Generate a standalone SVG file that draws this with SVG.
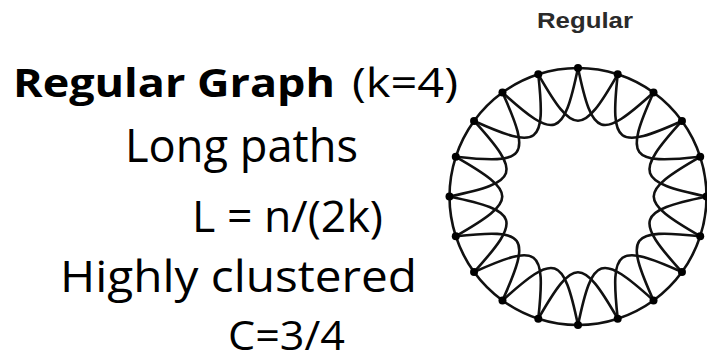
<svg xmlns="http://www.w3.org/2000/svg" xmlns:xlink="http://www.w3.org/1999/xlink" width="707" height="361" viewBox="0 0 707 361">
<style>
  .cap { font-family: "Open Sans", "DejaVu Sans", sans-serif; fill: #000; }
  .bold { font-weight: 700; }
  .lbl { font-family: "Liberation Sans", Arial, sans-serif; font-weight: 700; fill: #2a2a2a; }
  .edge { fill: none; stroke: #111; stroke-width: 2.6; }
  .node { fill: #000; }
</style>
<defs>
  <path id="chord" class="edge" d="M578,68 A128.5,128.5 0 0 1 617.71,74.29"/>
  <path id="skip" class="edge" d="M578,68 C592.61,137.89 600.63,140.5 653.53,92.54"/>
</defs>
<rect width="707" height="361" fill="#fff"/>

<g id="caption">
  <text class="cap" font-size="40" y="97"><tspan class="bold" x="13" textLength="322" lengthAdjust="spacingAndGlyphs">Regular Graph</tspan><tspan x="352" textLength="106" lengthAdjust="spacingAndGlyphs">(k=4)</tspan></text>
  <text class="cap" font-size="45" x="125" y="162" textLength="233" lengthAdjust="spacingAndGlyphs">Long paths</text>
  <text class="cap" font-size="44" x="192" y="232" textLength="191" lengthAdjust="spacingAndGlyphs">L = n/(2k)</text>
  <text class="cap" font-size="44" x="60" y="292" textLength="357" lengthAdjust="spacingAndGlyphs">Highly clustered</text>
  <text class="cap" font-size="40" x="228" y="350" textLength="117" lengthAdjust="spacingAndGlyphs">C=3/4</text>
</g>

<g id="label-regular">
  <text class="lbl" font-size="22" x="537" y="28" textLength="96" lengthAdjust="spacingAndGlyphs">Regular</text>
</g>

<g id="connectors">
  <use href="#chord" transform="rotate(0 578 196.5)"/>
  <use href="#chord" transform="rotate(18 578 196.5)"/>
  <use href="#chord" transform="rotate(36 578 196.5)"/>
  <use href="#chord" transform="rotate(54 578 196.5)"/>
  <use href="#chord" transform="rotate(72 578 196.5)"/>
  <use href="#chord" transform="rotate(90 578 196.5)"/>
  <use href="#chord" transform="rotate(108 578 196.5)"/>
  <use href="#chord" transform="rotate(126 578 196.5)"/>
  <use href="#chord" transform="rotate(144 578 196.5)"/>
  <use href="#chord" transform="rotate(162 578 196.5)"/>
  <use href="#chord" transform="rotate(180 578 196.5)"/>
  <use href="#chord" transform="rotate(198 578 196.5)"/>
  <use href="#chord" transform="rotate(216 578 196.5)"/>
  <use href="#chord" transform="rotate(234 578 196.5)"/>
  <use href="#chord" transform="rotate(252 578 196.5)"/>
  <use href="#chord" transform="rotate(270 578 196.5)"/>
  <use href="#chord" transform="rotate(288 578 196.5)"/>
  <use href="#chord" transform="rotate(306 578 196.5)"/>
  <use href="#chord" transform="rotate(324 578 196.5)"/>
  <use href="#chord" transform="rotate(342 578 196.5)"/>
  <use href="#skip" transform="rotate(0 578 196.5)"/>
  <use href="#skip" transform="rotate(18 578 196.5)"/>
  <use href="#skip" transform="rotate(36 578 196.5)"/>
  <use href="#skip" transform="rotate(54 578 196.5)"/>
  <use href="#skip" transform="rotate(72 578 196.5)"/>
  <use href="#skip" transform="rotate(90 578 196.5)"/>
  <use href="#skip" transform="rotate(108 578 196.5)"/>
  <use href="#skip" transform="rotate(126 578 196.5)"/>
  <use href="#skip" transform="rotate(144 578 196.5)"/>
  <use href="#skip" transform="rotate(162 578 196.5)"/>
  <use href="#skip" transform="rotate(180 578 196.5)"/>
  <use href="#skip" transform="rotate(198 578 196.5)"/>
  <use href="#skip" transform="rotate(216 578 196.5)"/>
  <use href="#skip" transform="rotate(234 578 196.5)"/>
  <use href="#skip" transform="rotate(252 578 196.5)"/>
  <use href="#skip" transform="rotate(270 578 196.5)"/>
  <use href="#skip" transform="rotate(288 578 196.5)"/>
  <use href="#skip" transform="rotate(306 578 196.5)"/>
  <use href="#skip" transform="rotate(324 578 196.5)"/>
  <use href="#skip" transform="rotate(342 578 196.5)"/>
</g>

<g id="nodes">
  <g id="n0"><circle class="node" cx="578" cy="68" r="4"/></g>
  <g id="n1"><circle class="node" cx="617.71" cy="74.29" r="4"/></g>
  <g id="n2"><circle class="node" cx="653.53" cy="92.54" r="4"/></g>
  <g id="n3"><circle class="node" cx="681.96" cy="120.97" r="4"/></g>
  <g id="n4"><circle class="node" cx="700.21" cy="156.79" r="4"/></g>
  <g id="n5"><circle class="node" cx="706.5" cy="196.5" r="4"/></g>
  <g id="n6"><circle class="node" cx="700.21" cy="236.21" r="4"/></g>
  <g id="n7"><circle class="node" cx="681.96" cy="272.03" r="4"/></g>
  <g id="n8"><circle class="node" cx="653.53" cy="300.46" r="4"/></g>
  <g id="n9"><circle class="node" cx="617.71" cy="318.71" r="4"/></g>
  <g id="n10"><circle class="node" cx="578" cy="325" r="4"/></g>
  <g id="n11"><circle class="node" cx="538.29" cy="318.71" r="4"/></g>
  <g id="n12"><circle class="node" cx="502.47" cy="300.46" r="4"/></g>
  <g id="n13"><circle class="node" cx="474.04" cy="272.03" r="4"/></g>
  <g id="n14"><circle class="node" cx="455.79" cy="236.21" r="4"/></g>
  <g id="n15"><circle class="node" cx="449.5" cy="196.5" r="4"/></g>
  <g id="n16"><circle class="node" cx="455.79" cy="156.79" r="4"/></g>
  <g id="n17"><circle class="node" cx="474.04" cy="120.97" r="4"/></g>
  <g id="n18"><circle class="node" cx="502.47" cy="92.54" r="4"/></g>
  <g id="n19"><circle class="node" cx="538.29" cy="74.29" r="4"/></g>
</g>
</svg>
